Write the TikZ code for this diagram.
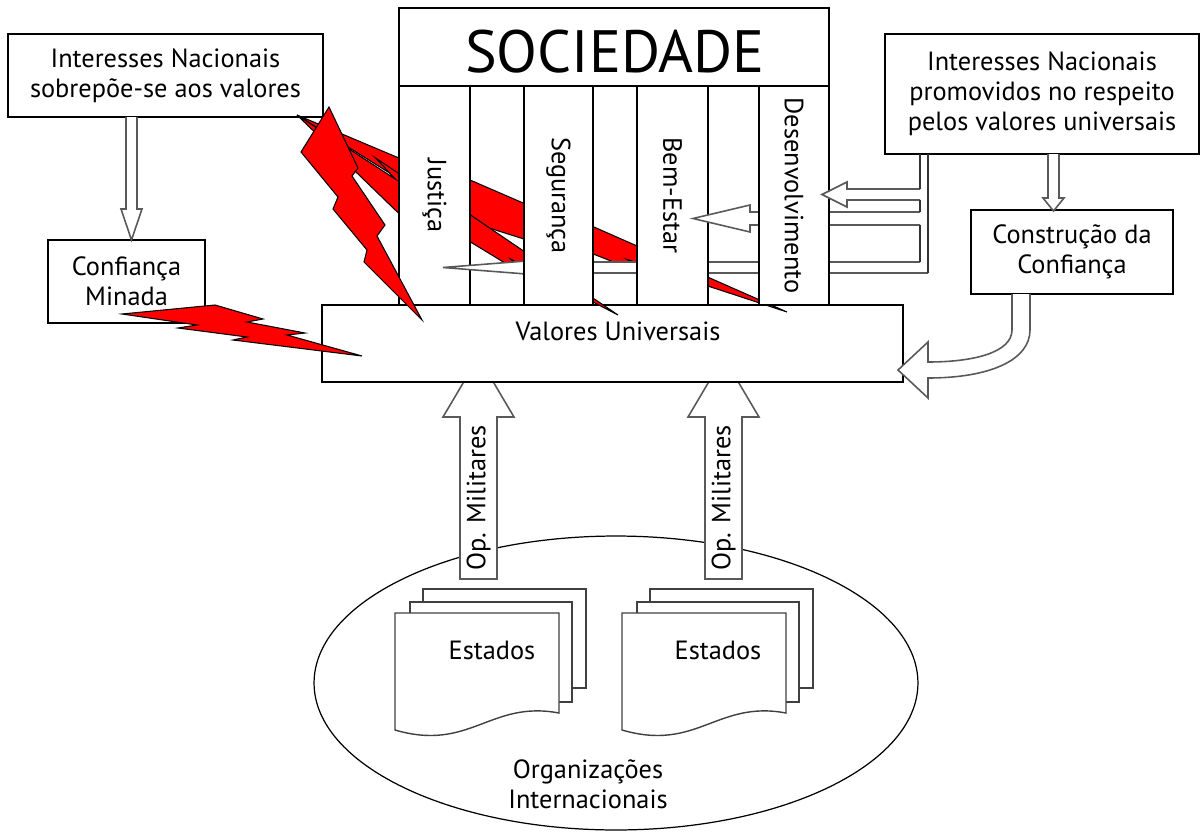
\documentclass[tikz,border=0pt]{standalone}
\usepackage{fontspec}
\setmainfont{PT Sans}
\usepackage{tikz}
\usetikzlibrary{shapes.geometric, positioning}

\begin{document}
\begin{tikzpicture}[x=0.02cm, y=-0.02cm, font=\fontsize{15}{17}\selectfont]
        % Setup the styles for the boxes, arrows and bolts
        \tikzset{box style/.style={draw,
                                   fill=white,
                                   line width=0.9pt,
                                   align=center,
                                   inner sep=0pt}}
        \tikzset{column style/.style={box style,
                                      rotate=-90,
                                      minimum width=4.38cm}}
        \tikzset{hollow style/.style={draw=black!65,
                                      fill=white,
                                      line width=0.9pt}}
        \tikzset{pipe style/.style={draw=black!80,
                                    line width=0.9pt}}
        \tikzset{bolt style/.style={draw=black,
                                    fill=red,
                                    line width=0.6pt}}
        \tikzset{page style/.style={draw=black!75,
                                    fill=white,
                                    line width=0.8pt}}

        \useasboundingbox (0, 0) rectangle (1201, 832);

        % Draw the organizations and the states
        \node[draw, ellipse, line width=0.7pt, minimum width=12.08cm, minimum height=5.88cm] at (616, 683) (orgs) {};
        \node[align=center] at (588, 784) (orgslabel) {Organizações\\Internacionais};

        \draw[page style] (423, 589) rectangle (586, 688);
        \draw[page style] (410, 602) rectangle (572, 702);
        \draw[page style] (395, 613) -- (559, 613) -- (559, 713)
            .. controls (490, 700) and (470, 752) .. (395, 730) -- cycle;
        \node at (492, 650) (states1) {Estados};

        \draw[page style] (650, 589) rectangle (813, 688);
        \draw[page style] (637, 602) rectangle (799, 702);
        \draw[page style] (622, 613) -- (786, 613) -- (786, 713)
            .. controls (717, 700) and (697, 752) .. (622, 730) -- cycle;
        \node at (718, 650) (states2) {Estados};

        % Draw the military operations
        \draw[hollow style] (460, 579) -- (460, 417) -- (443, 417) -- (478.5, 357)
            -- (514, 417) -- (497, 417) -- (497, 579) -- cycle;
        \node[rotate=90] at (478.5, 498) (ops1) {Op. Militares};
        \draw[hollow style] (705, 579) -- (705, 417) -- (688, 417) -- (723.5, 357)
            -- (759, 417) -- (742, 417) -- (742, 579) -- cycle;
        \node[rotate=90] at (723.5, 498) (ops2) {Op. Militares};

        % Draw the side boxes
        \node[box style, minimum width=6.3cm, minimum height=1.66cm] at (165.5, 75.5) (natl)
            {Interesses Nacionais\\sobrepõe-se aos valores};
        \node[box style, minimum width=3.14cm, minimum height=1.66cm] at (126.5, 281.5) (minada)
            {Confiança\\Minada};
        \node[box style, minimum width=6.28cm, minimum height=2.4cm] at (1042, 94) (promo)
            {Interesses Nacionais\\promovidos no respeito\\pelos valores universais};
        \node[box style, minimum width=4.04cm, minimum height=1.68cm] at (1072, 252) (constr)
            {Construção da\\Confiança};

        % Draw the universal values
        \node[box style, minimum width=11.62cm, minimum height=1.54cm] at (612.5, 343.5) (valores) {};
        \node at (618, 331) (valoreslabel) {Valores Universais};

        % Thin bolts behind the columns
        \draw[bolt style] (297, 115) -- (465.2, 220.4) -- (567.7, 252.9) -- (540.3, 233.3)
            -- (659.3, 279.9) -- (627.1, 259.5) -- (787, 312) -- (529.2, 198.5)
            -- (553.5, 216.2) -- (414.8, 156) -- (448.4, 178.9) -- cycle;
        \draw[bolt style] (297, 115) -- (399.9, 214.5) -- (468.7, 249.2) -- (452.4, 231)
            -- (530.6, 278.6) -- (511, 259.3) -- (618, 315) -- (451, 201.8)
            -- (465.4, 218.1) -- (375.5, 157.9) -- (395.5, 179.2) -- cycle;

        % Draw the columns of the society
        \node[column style, minimum height=1.42cm] at (434.5, 195.5) (justica) {Justiça};
        \draw[hollow style] (920, 262) -- (590, 262) -- (590, 256) -- (443, 267.5)
            -- (590, 279) -- (590, 273) -- (928, 273);
        \node[column style, minimum height=1.38cm] at (558.5, 195.5) (seguranca) {Segurança};
        \node[column style, minimum height=1.42cm] at (672.5, 195.5) (bemestar) {Bem-Estar};
        \draw[hollow style] (920, 212) -- (750, 212) -- (750, 205) -- (693, 218.5)
            -- (750, 232) -- (750, 225) -- (920, 225);
        \node[column style, minimum height=1.4cm] at (794, 195.5) (desenv) {Desenvolvimento};
        \draw[hollow style] (920, 189) -- (847, 189) -- (847, 182) -- (822, 194.5)
            -- (847, 207) -- (847, 200) -- (920, 200);
        \draw[pipe style] (920, 154) -- (920, 189) (920, 200) -- (920, 212)
            (920, 225) -- (920, 262) (928, 154) -- (928, 273);

        \node[box style, minimum width=8.6cm, minimum height=1.56cm] at (614, 47) (header) {};
        \node[font=\fontsize{34}{36}\selectfont] at (615, 52) (sociedade) {SOCIEDADE};

        % Connect the boxes with hollow arrows
        \draw[hollow style] (126, 117) -- (126, 209) -- (121, 209) -- (131.5, 240)
            -- (142, 209) -- (137, 209) -- (137, 117);
        \draw[hollow style] (1048, 154) -- (1048, 198) -- (1043, 198) -- (1053.5, 211)
            -- (1064, 198) -- (1059, 198) -- (1059, 154);
        \draw[hollow style] (1012, 294) -- (1012, 330) .. controls (1012, 352) and (975, 362) .. (928, 362)
            -- (928, 342) -- (898, 370) -- (928, 398) -- (928, 378)
            .. controls (990, 378) and (1030, 360) .. (1030, 330) -- (1030, 294);

        % Big bolts on top
        \draw[bolt style] (329, 107) -- (358, 168) -- (352, 176) -- (385, 225) -- (377, 236)
            -- (422, 320) -- (364, 262) -- (367, 250) -- (333, 209) -- (338, 197)
            -- (301, 152) -- cycle;
        \draw[bolt style] (122, 314) -- (215, 305) -- (263, 319) -- (247, 322) -- (305, 333)
            -- (287, 335) -- (362, 356) -- (233, 340) -- (247, 337) -- (178, 328)
            -- (197, 325) -- cycle;
\end{tikzpicture}
\end{document}
